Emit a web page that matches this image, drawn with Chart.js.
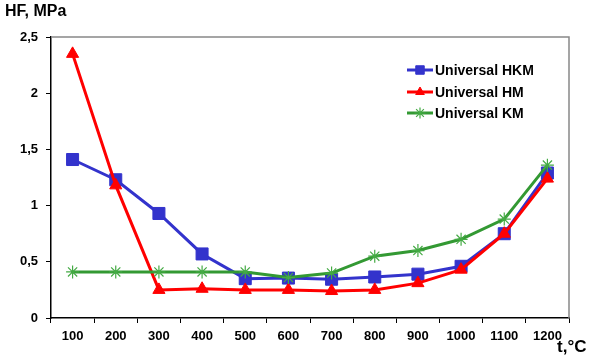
<!DOCTYPE html>
<html>
<head>
<meta charset="utf-8">
<script src="https://cdn.jsdelivr.net/npm/chart.js@4"></script>
<style>
html,body{margin:0;padding:0;background:#fff;}
#wrap{width:600px;height:359px;position:relative;}
</style>
</head>
<body>
<div id="wrap"><canvas id="c" width="600" height="359"></canvas></div>
<script>
const categories = ['100','200','300','400','500','600','700','800','900','1000','1100','1200'];
const hkm = [1.41, 1.23, 0.93, 0.57, 0.35, 0.355, 0.345, 0.365, 0.39, 0.46, 0.75, 1.29];
const hm  = [2.35, 1.18, 0.25, 0.26, 0.25, 0.25, 0.24, 0.25, 0.31, 0.43, 0.75, 1.24];
const km  = [0.41, 0.41, 0.41, 0.41, 0.41, 0.36, 0.40, 0.55, 0.60, 0.70, 0.88, 1.36];
const seriesNames = ['Universal HKM', 'Universal HM', 'Universal KM'];
const yTicks = [0, 0.5, 1, 1.5, 2, 2.5];
const yTitle = 'HF, MPa';
const xTitle = 't,°C';

const FONT = '"Liberation Sans", Arial, sans-serif';

const extras = {
  id: 'extras',
  beforeDatasetsDraw(chart) {
    const {ctx, chartArea: a} = chart;
    ctx.save();
    ctx.strokeStyle = '#888888';
    ctx.lineWidth = 1.5;
    ctx.beginPath();
    ctx.moveTo(a.left, a.top);
    ctx.lineTo(a.right, a.top);
    ctx.lineTo(a.right, a.bottom);
    ctx.stroke();
    ctx.restore();
  },
  afterDraw(chart) {
    const {ctx} = chart;
    ctx.save();
    ctx.fillStyle = '#000';
    ctx.font = 'bold 16px ' + FONT;
    ctx.textBaseline = 'middle';
    ctx.textAlign = 'left';
    ctx.fillText(yTitle, 5, 12);
    ctx.font = 'bold 17px ' + FONT;
    ctx.fillText(xTitle, 557, 347);
    const ys = [70, 92, 113];
    chart.data.datasets.forEach((ds, i) => {
      const y = ys[i];
      ctx.save();
      ctx.strokeStyle = ds.borderColor;
      ctx.lineWidth = 3;
      ctx.beginPath();
      ctx.moveTo(407, y);
      ctx.lineTo(433, y);
      ctx.stroke();
      ctx.fillStyle = ds.pointBackgroundColor;
      ctx.strokeStyle = ds.pointBorderColor;
      ctx.lineWidth = ds.pointBorderWidth;
      Chart.helpers.drawPoint(ctx, {
        pointStyle: ds.pointStyle,
        radius: ds.legendRadius,
        rotation: 0,
        borderWidth: ds.pointBorderWidth,
      }, 420, y);
      ctx.restore();
      ctx.fillStyle = '#000';
      ctx.font = 'bold 14px ' + FONT;
      ctx.textBaseline = 'middle';
      ctx.textAlign = 'left';
      ctx.fillText(ds.label, 435, y + 1);
    });
    ctx.restore();
  }
};

new Chart(document.getElementById('c'), {
  type: 'line',
  data: {
    labels: categories,
    datasets: [
      {
        label: seriesNames[0], data: hkm,
        borderColor: '#3333cc', backgroundColor: '#3333cc',
        pointBackgroundColor: '#3333cc', pointBorderColor: '#3333cc',
        pointStyle: 'rect', pointRadius: 8.5, pointHoverRadius: 8.5, pointBorderWidth: 1,
        borderWidth: 3, order: 3, legendRadius: 6, tension: 0
      },
      {
        label: seriesNames[1], data: hm,
        borderColor: '#ff0000', backgroundColor: '#ff0000',
        pointBackgroundColor: '#ff0000', pointBorderColor: '#ff0000',
        pointStyle: 'triangle', pointRadius: 7, pointHoverRadius: 7, pointBorderWidth: 1,
        borderWidth: 3, order: 2, legendRadius: 5, tension: 0
      },
      {
        label: seriesNames[2], data: km,
        borderColor: '#339933', backgroundColor: '#339933',
        pointBackgroundColor: '#44aa44', pointBorderColor: '#44aa44',
        pointStyle: 'star', pointRadius: 6.5, pointHoverRadius: 6.5, pointBorderWidth: 1.2,
        borderWidth: 3, order: 1, legendRadius: 5.5, tension: 0
      }
    ]
  },
  options: {
    responsive: false,
    animation: false,
    devicePixelRatio: 1,
    layout: {padding: {left: 0, right: 31, top: 37, bottom: 0}},
    plugins: {legend: {display: false}, tooltip: {enabled: false}},
    scales: {
      x: {
        offset: true,
        grid: {offset: true, drawOnChartArea: false, tickLength: 5, color: '#000', tickWidth: 1},
        border: {color: '#000', width: 1.5},
        ticks: {color: '#000', font: {family: FONT, size: 13, weight: 'bold'}, padding: 6, maxRotation: 0, autoSkip: false},
        afterFit(s) { s.height = 41; }
      },
      y: {
        min: 0, max: 2.5,
        afterBuildTicks(s) { s.ticks = yTicks.map(v => ({value: v})); },
        grid: {drawOnChartArea: false, tickLength: 5, color: '#000', tickWidth: 1},
        border: {color: '#000', width: 1.5},
        ticks: {color: '#000', font: {family: FONT, size: 13, weight: 'bold'}, padding: 8,
          callback: v => String(v).replace('.', ',')},
        afterFit(s) { s.width = 51; }
      }
    }
  },
  plugins: [extras]
});
</script>
</body>
</html>
